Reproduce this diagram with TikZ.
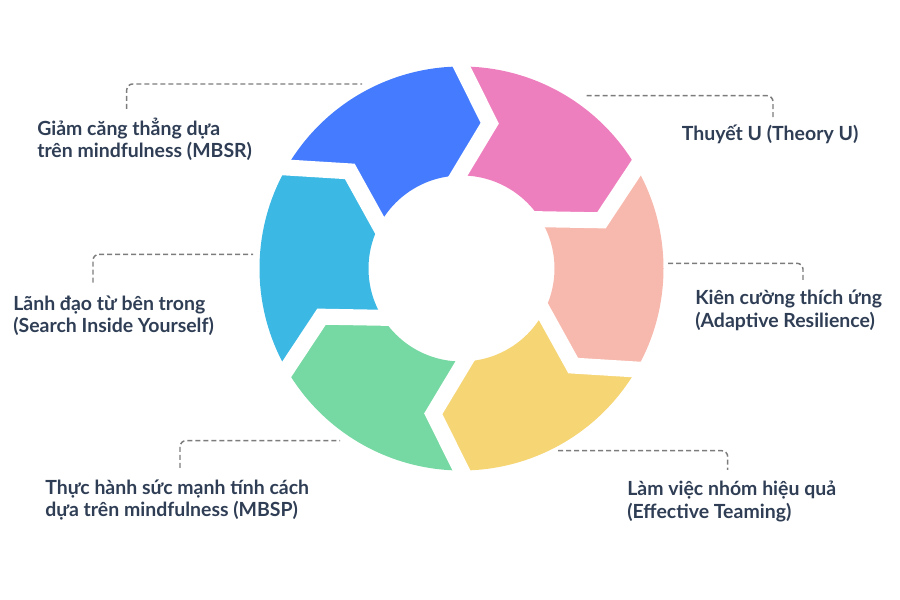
\documentclass[tikz,border=0pt]{standalone}
\usepackage{fontspec}
\setmainfont{Lato}
\usetikzlibrary{calc}

\definecolor{segblue}{HTML}{457CFF}
\definecolor{segpink}{HTML}{EE7FBE}
\definecolor{segsalmon}{HTML}{F7B8AD}
\definecolor{segyellow}{HTML}{F5D574}
\definecolor{seggreen}{HTML}{76D8A2}
\definecolor{segcyan}{HTML}{3BB8E4}
\definecolor{labelink}{HTML}{2F3E55}
\definecolor{leadergray}{HTML}{7C7C7C}

\tikzset{
  labeltext/.style={font=\bfseries\fontsize{14.6}{16.9}\selectfont, text=labelink, align=left, anchor=base west, inner sep=0pt},
  leader/.style={draw=leadergray, line width=1.1pt, dash pattern=on 3.75pt off 2.25pt, rounded corners=4.5pt},
  gapline/.style={draw=white, line width=12pt, miter limit=20}
}

\begin{document}
\begin{tikzpicture}[x=0.75pt, y=0.75pt]
\useasboundingbox (0,0) rectangle (900,600);

% ring of six arrow segments, clockwise from the top
\begin{scope}[shift={(461.5,331.5)}]
  \foreach \b/\col in {90/segpink, 30/segsalmon, -30/segyellow, -90/seggreen, -150/segcyan, 150/segblue}{
    \fill[\col] (\b:202) arc[start angle=\b, end angle=\b-60, radius=202]
      -- (\b-71:148) -- (\b-58:93)
      arc[start angle=\b-58, end angle=\b+2, radius=93]
      -- (\b-11:148) -- cycle;
  }
  % white gaps between segments
  \foreach \b in {90,30,-30,-90,-150,150}
    \draw[gapline] ($(\b-11:148)!1.3!(\b:202)$) -- (\b-11:148) -- ($(\b-11:148)!1.5!(\b+2:93)$);
\end{scope}

% labels (base = last line)
\node[labeltext] (mbsr) at (37,442) {Giảm căng thẳng dựa\\trên mindfulness (MBSR)};
\node[labeltext] (siy) at (13,267) {Lãnh đạo từ bên trong\\(Search Inside Yourself)};
\node[labeltext] (mbsp) at (45,83.3) {Thực hành sức mạnh tính cách\\dựa trên mindfulness (MBSP)};
\node[labeltext] (theoryu) at (681.7,459.3) {Thuyết U (Theory U)};
\node[labeltext] (resilience) at (695,272.7) {Kiên cường thích ứng\\(Adaptive Resilience)};
\node[labeltext] (teaming) at (627,81.7) {Làm việc nhóm hiệu quả\\(Effective Teaming)};

% leader lines
\coordinate (mbsr-foot) at (126.7,491);
\coordinate (mbsr-tip) at (362,516);
\coordinate (siy-foot) at (93,317.3);
\coordinate (siy-tip) at (253,345.7);
\coordinate (mbsp-foot) at (180,132);
\coordinate (mbsp-tip) at (340,159.3);
\coordinate (theoryu-tip) at (586.7,504.3);
\coordinate (theoryu-foot) at (773,482);
\coordinate (resilience-tip) at (668,336.7);
\coordinate (resilience-foot) at (803,317.7);
\coordinate (teaming-tip) at (558,149.3);
\coordinate (teaming-foot) at (727.7,130);

\draw[leader] (mbsr-foot) |- (mbsr-tip);
\draw[leader] (siy-foot) |- (siy-tip);
\draw[leader] (mbsp-foot) |- (mbsp-tip);
\draw[leader] (theoryu-tip) -| (theoryu-foot);
\draw[leader] (resilience-tip) -| (resilience-foot);
\draw[leader] (teaming-tip) -| (teaming-foot);

\end{tikzpicture}
\end{document}
